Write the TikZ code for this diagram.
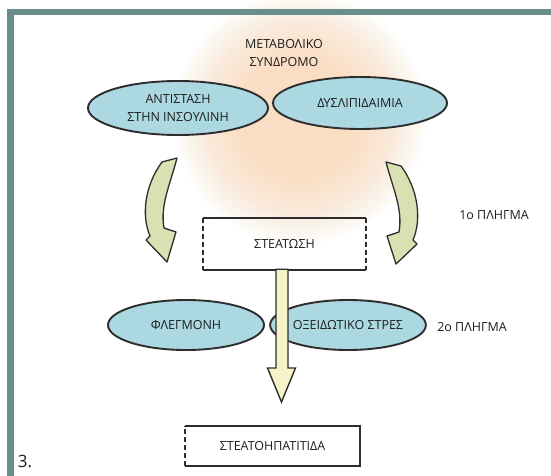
\documentclass[tikz,border=0pt]{standalone}
\usepackage{fontspec}
\setmainfont{Open Sans}
\usetikzlibrary{shapes.geometric,calc}
\definecolor{framecol}{RGB}{106,143,139}
\definecolor{peach}{RGB}{250,212,175}
\definecolor{ellfill}{RGB}{172,216,226}
\definecolor{inkcol}{RGB}{45,45,45}
\definecolor{arrowgreen}{RGB}{218,224,178}
\definecolor{arrowyellow}{RGB}{246,243,200}
\definecolor{txtcol}{RGB}{30,30,30}
\tikzset{
  bubble/.style={ellipse, draw=inkcol, line width=1.9pt, fill=ellfill, inner sep=0pt,
    text=txtcol, font=\fontsize{12.5}{17.5}\selectfont, align=center},
  boxnode/.style={inner sep=0pt, text=txtcol, font=\fontsize{12.5}{15}\selectfont},
  boxsolid/.style={draw=inkcol, line width=2.4pt},
  boxdash/.style={draw=inkcol, line width=2.4pt, dash pattern=on 5pt off 3pt},
  curvearrow/.style={fill=arrowgreen, draw=inkcol, line width=1.3pt, line join=round},
  downarrow/.style={fill=arrowyellow, draw=inkcol, line width=1.4pt, line join=miter},
  lbl/.style={text=txtcol, font=\fontsize{12.5}{17.5}\selectfont, inner sep=0pt}
}
\begin{document}
\begin{tikzpicture}[x=1pt,y=-1pt]
\useasboundingbox (0,0) rectangle (551,476);
\fill[white] (0,0) rectangle (551,476);
% soft peach blob
\foreach \r in {60,63,...,128}
  \fill[peach, opacity=0.045] (300,118) circle (\r);
% frame
\fill[framecol] (7,9) rectangle (551,15);
\fill[framecol] (7,9) rectangle (14,476);
% title
\node[lbl, align=center] (ms) at (284,53) {ΜΕΤΑΒΟΛΙΚΟ\\ΣΥΝΔΡΟΜΟ};
% top ellipses
\node[bubble, minimum width=180pt, minimum height=54pt] (ins) at (178,108) {ΑΝΤΙΣΤΑΣΗ\\ΣΤΗΝ ΙΝΣΟΥΛΙΝΗ};
\node[bubble, minimum width=174pt, minimum height=52pt] (dys) at (360,103) {ΔΥΣΛΙΠΙΔΑΙΜΙΑ};
% curved arrows
\path[curvearrow] (162,162) -- (177,158) .. controls (170,185) and (160,205) .. (164,228)
  -- (176,232) -- (167,262) -- (146,240) -- (150,236)
  .. controls (141,215) and (145,185) .. (162,162) -- cycle;
\path[curvearrow] (401,166) -- (386,162) .. controls (393,189) and (403,209) .. (399,232)
  -- (387,236) -- (396,264) -- (417,244) -- (413,240)
  .. controls (422,219) and (418,189) .. (401,166) -- cycle;
% steatosis box
\node[boxnode, minimum width=163pt, minimum height=52pt] (st) at (284.5,244) {ΣΤΕΑΤΩΣΗ};
\draw[boxsolid] (st.north west) -- (st.north east);
\draw[boxsolid] (st.south west) -- (st.south east);
\draw[boxdash] (st.north west) -- (st.south west);
\draw[boxdash] (st.north east) -- (st.south east);
\node[lbl] (p1) at (494,215) {1ο ΠΛΗΓΜΑ};
% lower ellipses
\node[bubble, minimum width=156pt, minimum height=50pt] (fl) at (186,325) {ΦΛΕΓΜΟΝΗ};
\node[bubble, minimum width=154pt, minimum height=50pt] (ox) at (348,325) {ΟΞΕΙΔΩΤΙΚΟ ΣΤΡΕΣ};
\node[lbl] (p2) at (472,327) {2ο ΠΛΗΓΜΑ};
% final box
\node[boxnode, minimum width=175pt, minimum height=40pt] (sh) at (272.5,446) {ΣΤΕΑΤΟΗΠΑΤΙΤΙΔΑ};
\draw[boxsolid] (sh.north west) -- (sh.north east) -- (sh.south east) -- (sh.south west);
\draw[boxdash] (sh.south west) -- (sh.north west);
% down block arrow
\coordinate (tip) at (281.5,402);
\path[downarrow] ([xshift=-8.5pt,yshift=1pt]st.south) -- (276,368) -- (267.5,368) -- (tip)
  -- (295.5,368) -- (288,368) -- ([xshift=3.5pt,yshift=1pt]st.south) -- cycle;
% figure number
\node[text=txtcol, font=\fontsize{17}{19}\selectfont, inner sep=0pt] (num) at (25,461) {3.};
\end{tikzpicture}
\end{document}
